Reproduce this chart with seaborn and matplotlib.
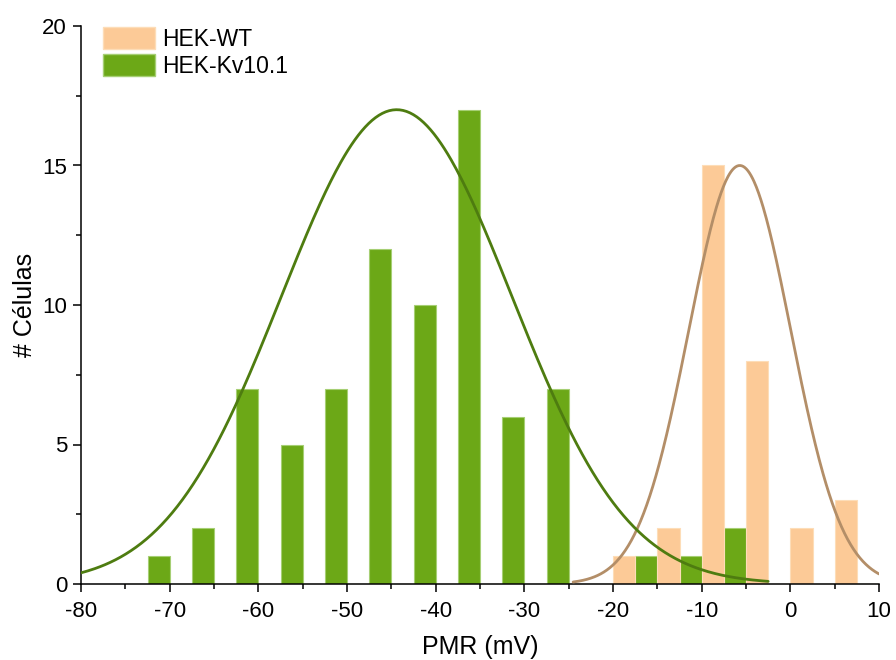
import numpy as np
import pandas as pd
import matplotlib
matplotlib.use("Agg")
import matplotlib.pyplot as plt
import seaborn as sns
from matplotlib.ticker import MultipleLocator
from matplotlib.patches import Patch

# --- datos ---
# centros de las barras (mV) y número de células
wt_pmr = [-18.75, -13.75, -8.75, -3.75, 1.25, 6.25]
wt_count = [1, 2, 15, 8, 2, 3]

kv_pmr = [-71.25, -66.25, -61.25, -56.25, -51.25, -46.25, -41.25,
          -36.25, -31.25, -26.25, -16.25, -11.25, -6.25]
kv_count = [1, 2, 7, 5, 7, 12, 10, 17, 6, 7, 1, 1, 2]

# ajuste gaussiano: amplitud, centro, sigma, rango
wt_fit = dict(amp=15.0, mu=-5.7, sigma=5.75, xmin=-24.5, xmax=10.0)
kv_fit = dict(amp=17.0, mu=-44.4, sigma=13.0, xmin=-80.0, xmax=-2.5)

labels = ["HEK-WT", "HEK-Kv10.1"]

# colores
C_WT = "#FCCA97"
C_WT_EDGE = "#FDDDB8"
C_KV = "#6CA817"
C_KV_EDGE = "#A6CF74"
C_WT_FIT = "#B38E68"
C_KV_FIT = "#4E7C10"

sns.set_style("ticks")
plt.rcParams['font.family'] = ['Liberation Sans', 'DejaVu Sans']
plt.rcParams['axes.unicode_minus'] = False
plt.rcParams['text.color'] = 'black'
plt.rcParams['axes.labelcolor'] = 'black'
plt.rcParams['xtick.color'] = 'black'
plt.rcParams['ytick.color'] = 'black'

fig = plt.figure(figsize=(8.96, 6.6), dpi=100)
ax = fig.add_axes([81 / 896, 1 - 584 / 660, 798 / 896, 558 / 660])

df = pd.DataFrame({
    "pmr": wt_pmr + kv_pmr,
    "n": wt_count + kv_count,
    "grupo": [labels[0]] * len(wt_pmr) + [labels[1]] * len(kv_pmr),
})

sns.histplot(data=df, x="pmr", weights="n", hue="grupo", hue_order=labels,
             palette={labels[0]: C_WT, labels[1]: C_KV},
             binwidth=2.5, binrange=(-75, 10), multiple="layer",
             alpha=1, linewidth=0.8, edgecolor="none", legend=False, ax=ax)

# bordes claros por grupo
for p in ax.patches:
    fc = matplotlib.colors.to_hex(p.get_facecolor())
    p.set_edgecolor(C_WT_EDGE if fc.lower() == C_WT.lower() else C_KV_EDGE)

# curvas de ajuste
for fit, col in [(wt_fit, C_WT_FIT), (kv_fit, C_KV_FIT)]:
    xs = np.linspace(fit["xmin"], fit["xmax"], 400)
    ys = fit["amp"] * np.exp(-(xs - fit["mu"]) ** 2 / (2 * fit["sigma"] ** 2))
    sns.lineplot(x=xs, y=ys, color=col, linewidth=2.0, ax=ax, zorder=5)

ax.set_xlim(-80, 10)
ax.set_ylim(0, 20)
ax.xaxis.set_major_locator(MultipleLocator(10))
ax.xaxis.set_minor_locator(MultipleLocator(5))
ax.yaxis.set_major_locator(MultipleLocator(5))
ax.yaxis.set_minor_locator(MultipleLocator(2.5))
ax.tick_params(which="major", direction="out", length=6, width=1.1,
               labelsize=16, pad=4, color="black", labelcolor="black")
ax.tick_params(axis="x", which="major", pad=6)
ax.tick_params(which="minor", direction="out", length=3.5, width=1.1, color="black")
for s in ["left", "bottom"]:
    ax.spines[s].set_linewidth(1.1)
    ax.spines[s].set_color("black")
sns.despine(ax=ax)

ax.set_xlabel("PMR (mV)", fontsize=18, labelpad=9.5)
ax.set_ylabel("# Células", fontsize=18, labelpad=4)

handles = [Patch(facecolor=C_WT, edgecolor=C_WT_EDGE),
           Patch(facecolor=C_KV, edgecolor=C_KV_EDGE)]
ax.legend(handles, labels, loc="upper left", bbox_to_anchor=(0.027, 0.998),
          frameon=False, fontsize=16.5, borderpad=0, borderaxespad=0,
          handlelength=2.3, handleheight=1.1, labelspacing=0.15,
          handletextpad=0.3)

fig.savefig("out.png", dpi=100)
